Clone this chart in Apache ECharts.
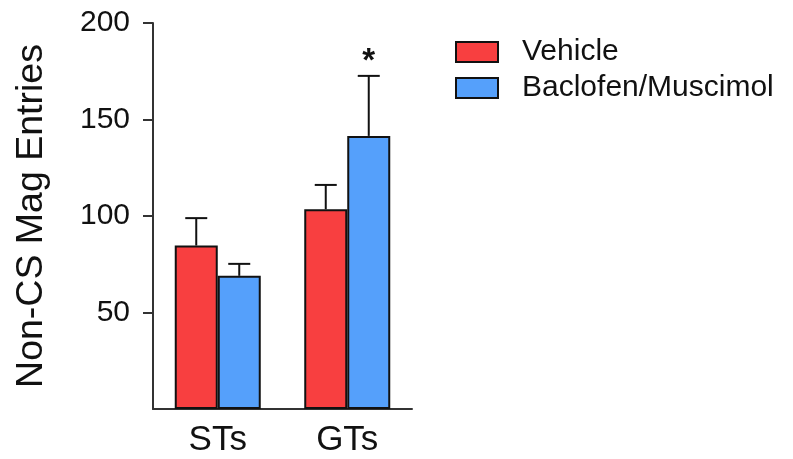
<!DOCTYPE html>
<html>
<head>
<meta charset="utf-8">
<script src="https://cdn.jsdelivr.net/npm/echarts@6/dist/echarts.min.js"></script>
<style>
  html, body { margin: 0; padding: 0; background: #fff; }
  #chart { width: 793px; height: 459px; }
</style>
</head>
<body>
<div id="chart"></div>
<script>
// Groups on the x axis
const groups = ['STs', 'GTs'];
// Mean non-CS magazine entries per group
const vehicleMeans = [84.7, 103.5];
const baclofenMeans = [69, 141.5];
// Standard error of the mean (drawn upward only)
const vehicleSem = [14.2, 12.6];
const baclofenSem = [6.2, 31.1];
// Significance marks above the Baclofen/Muscimol bars
const baclofenSig = ['', '*'];
// Y axis tick values
const yTicks = [50, 100, 150, 200];

const FONT = 'Liberation Sans, Arial, sans-serif';
const BAR_W = 43;
const RED = '#F83F40';
const BLUE = '#55A0FB';

function errorSeries(name, means, sems, marks, offset) {
  return {
    type: 'custom',
    name: name + ' SEM',
    z: 5,
    silent: true,
    data: means.map((m, i) => [i, m, sems[i], marks ? marks[i] : '']),
    renderItem: function (params, api) {
      const i = api.value(0);
      const base = api.coord([i, api.value(1)]);
      const top = api.coord([i, api.value(1) + api.value(2)]);
      const x = base[0] + offset;
      const capHalf = 11;
      const style = { stroke: '#111', lineWidth: 2 };
      const children = [
        { type: 'line', shape: { x1: x, y1: base[1], x2: x, y2: top[1] }, style: style },
        { type: 'line', shape: { x1: x - capHalf, y1: top[1], x2: x + capHalf, y2: top[1] }, style: style }
      ];
      const mark = api.value(3);
      if (mark) {
        children.push({
          type: 'text',
          x: x,
          y: top[1] + 3,
          style: {
            text: mark, fill: '#111', fontFamily: FONT, fontSize: 33,
            fontWeight: 'bold', align: 'center', verticalAlign: 'bottom'
          }
        });
      }
      return { type: 'group', children: children };
    }
  };
}

const chart = echarts.init(document.getElementById('chart'));
chart.setOption({
  animation: false,
  backgroundColor: '#fff',
  textStyle: { fontFamily: FONT, color: '#111' },
  grid: { left: 153, right: 381, top: 23, bottom: 50 },
  legend: {
    left: 450, top: 32,
    orient: 'vertical',
    itemWidth: 42, itemHeight: 20, itemGap: 6,
    data: ['Vehicle', 'Baclofen/Muscimol'],
    textStyle: { fontFamily: FONT, fontSize: 30, color: '#111', lineHeight: 21, padding: [0, 0, 0, 19] },
    icon: 'rect'
  },
  xAxis: {
    type: 'category',
    data: groups,
    axisLine: { lineStyle: { color: '#333', width: 2 } },
    axisTick: { show: false },
    axisLabel: { fontSize: 35, color: '#111', margin: 14, fontFamily: FONT }
  },
  yAxis: {
    type: 'value',
    min: 0, max: 200, interval: 50,
    name: 'Non-CS Mag Entries',
    nameLocation: 'middle',
    nameGap: 102,
    nameTextStyle: { fontSize: 37.5, color: '#111', fontFamily: FONT },
    axisLine: { show: true, lineStyle: { color: '#333', width: 2 } },
    axisTick: { show: true, length: 10, lineStyle: { color: '#333', width: 2 }, customValues: yTicks },
    axisLabel: { fontSize: 30, color: '#111', margin: 23, fontFamily: FONT, customValues: yTicks },
    splitLine: { show: false }
  },
  series: [
    {
      type: 'bar', name: 'Vehicle', data: vehicleMeans,
      barWidth: BAR_W, barGap: '0%',
      itemStyle: { color: RED, borderColor: '#111', borderWidth: 2 }
    },
    {
      type: 'bar', name: 'Baclofen/Muscimol', data: baclofenMeans,
      barWidth: BAR_W, barGap: '0%',
      itemStyle: { color: BLUE, borderColor: '#111', borderWidth: 2 }
    },
    errorSeries('Vehicle', vehicleMeans, vehicleSem, null, -BAR_W / 2),
    errorSeries('Baclofen/Muscimol', baclofenMeans, baclofenSem, baclofenSig, BAR_W / 2)
  ]
});
</script>
</body>
</html>
